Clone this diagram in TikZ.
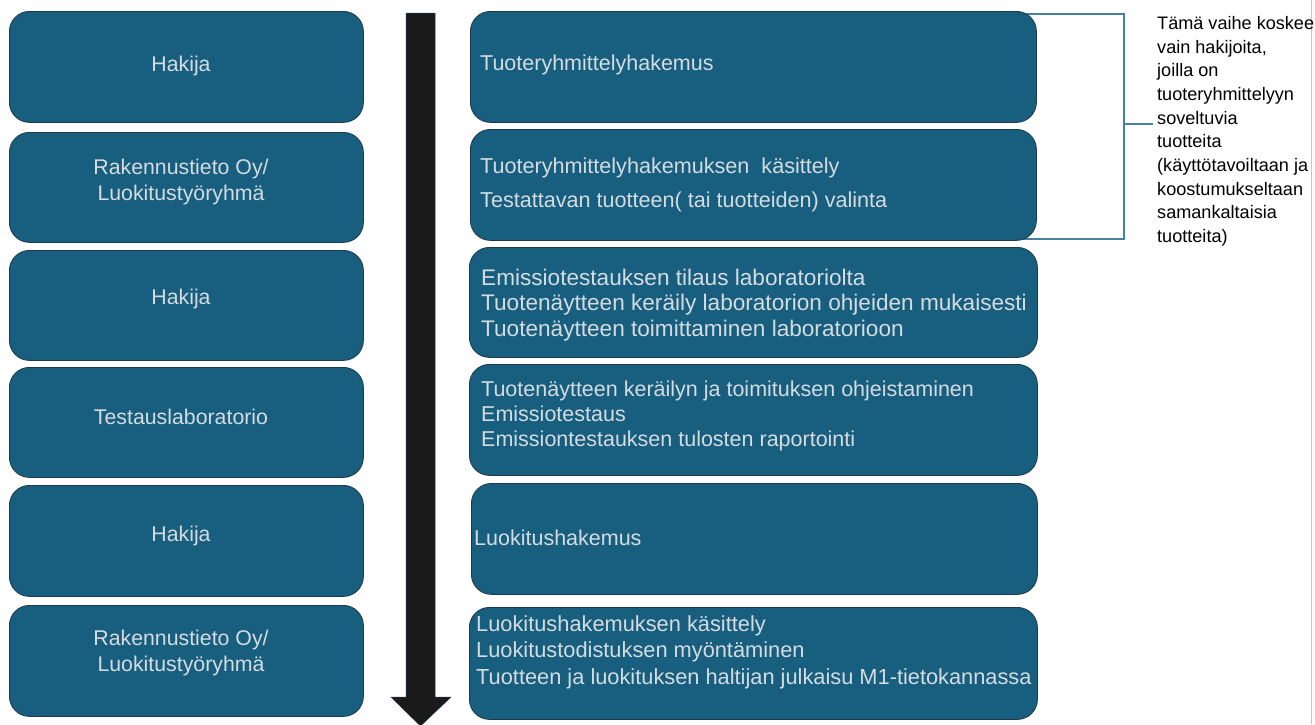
\documentclass[tikz,border=0pt]{standalone}
\usepackage{fontspec}
\setmainfont{Liberation Sans}
\definecolor{boxfill}{RGB}{23,94,127}
\definecolor{boxline}{RGB}{30,58,72}
\definecolor{boxtext}{RGB}{212,220,224}
\definecolor{bracketc}{RGB}{70,130,160}
\definecolor{arrowc}{RGB}{26,26,26}
\tikzset{
  stage/.style={draw=boxline, line width=0.8pt, fill=boxfill, rounded corners=20pt, anchor=north west, inner sep=0pt},
  role/.style={text=boxtext, align=center, font=\fontsize{21.3}{26}\selectfont, inner sep=0pt},
  task/.style={text=boxtext, align=left, anchor=west, inner sep=0pt},
  note/.style={text=black, align=left, anchor=north west, font=\fontsize{18.1}{23.7}\selectfont, inner sep=0pt},
}
\begin{document}
\begin{tikzpicture}[x=1pt,y=-1pt]
\useasboundingbox (0,0) rectangle (1315,724);
\fill[white] (0,0) rectangle (1315,724);
% page edge line
\draw[gray!45, line width=1.5pt] (1311.5,0) -- (1311.5,724);
% bracket (behind boxes)
\coordinate (bt) at (1000,14);
\coordinate (bb) at (1000,239);
\coordinate (bm) at (1124,124);
\draw[bracketc, line width=1.1pt] (bt) -- (1124,14) -- (1124,239) -- (bb);
% arrow
\filldraw[fill=arrowc, draw=boxline, line width=0.5pt]
  (406,13) -- (435,13) -- (435,697) -- (451,697) -- (420.5,726) -- (391,697) -- (406,697) -- cycle;
% left boxes
\node[stage, minimum width=354pt, minimum height=111pt] (L1) at (9,11) {};
\node[stage, minimum width=354pt, minimum height=110pt] (L2) at (9,132) {};
\node[stage, minimum width=354pt, minimum height=110pt] (L3) at (9,250) {};
\node[stage, minimum width=354pt, minimum height=110pt] (L4) at (9,367) {};
\node[stage, minimum width=354pt, minimum height=111pt] (L5) at (9,485) {};
\node[stage, minimum width=354pt, minimum height=111pt] (L6) at (9,605) {};
% right boxes
\node[stage, minimum width=566pt, minimum height=111pt] (R1) at (470,11) {};
\node[stage, minimum width=566pt, minimum height=111pt] (R2) at (470,129) {};
\node[stage, minimum width=568pt, minimum height=110pt] (R3) at (469,247) {};
\node[stage, minimum width=568pt, minimum height=111pt] (R4) at (469,364) {};
\node[stage, minimum width=566pt, minimum height=111pt] (R5) at (471,483) {};
\node[stage, minimum width=568pt, minimum height=112pt] (R6) at (469,607) {};
% left texts
\node[role] (l1) at (181,66) {Hakija};
\node[role] (l2) at (181,182) {Rakennustieto Oy/\\Luokitustyöryhmä};
\node[role] (l3) at (181,299) {Hakija};
\node[role] (l4) at (181,417) {Testauslaboratorio};
\node[role] (l5) at (181,536) {Hakija};
\node[role] (l6) at (181,653) {Rakennustieto Oy/\\Luokitustyöryhmä};
% right texts
\node[task, font=\fontsize{21.5}{26.5}\selectfont] (r1) at (480,65) {Tuoteryhmittelyhakemus};
\node[task, font=\fontsize{21.6}{34}\selectfont] (r2) at (480,185) {Tuoteryhmittelyhakemuksen\ \ käsittely\\Testattavan tuotteen( tai tuotteiden) valinta};
\node[task, font=\fontsize{22.6}{25.5}\selectfont] (r3) at (481,305) {Emissiotestauksen tilaus laboratoriolta\\Tuotenäytteen keräily laboratorion ohjeiden mukaisesti\\Tuotenäytteen toimittaminen laboratorioon};
\node[task, font=\fontsize{21.5}{25}\selectfont] (r4) at (481,416) {Tuotenäytteen keräilyn ja toimituksen ohjeistaminen\\Emissiotestaus\\Emissiontestauksen tulosten raportointi};
\node[task, font=\fontsize{21.5}{26.5}\selectfont] (r5) at (474,538) {Luokitushakemus};
\node[task, font=\fontsize{21.8}{26.5}\selectfont] (r6) at (476,652) {Luokitushakemuksen käsittely\\Luokitustodistuksen myöntäminen\\Tuotteen ja luokituksen haltijan julkaisu M1-tietokannassa};
% note
\node[note] (nt) at (1157,16) {Tämä vaihe koskee\\vain hakijoita,\\joilla on\\tuoteryhmittelyyn\\soveltuvia\\tuotteita\\(käyttötavoiltaan ja\\koostumukseltaan\\samankaltaisia\\tuotteita)};
\coordinate (nl) at (1153,124);
\draw[bracketc, line width=1.1pt] (bm) -- (nl);
\end{tikzpicture}
\end{document}
